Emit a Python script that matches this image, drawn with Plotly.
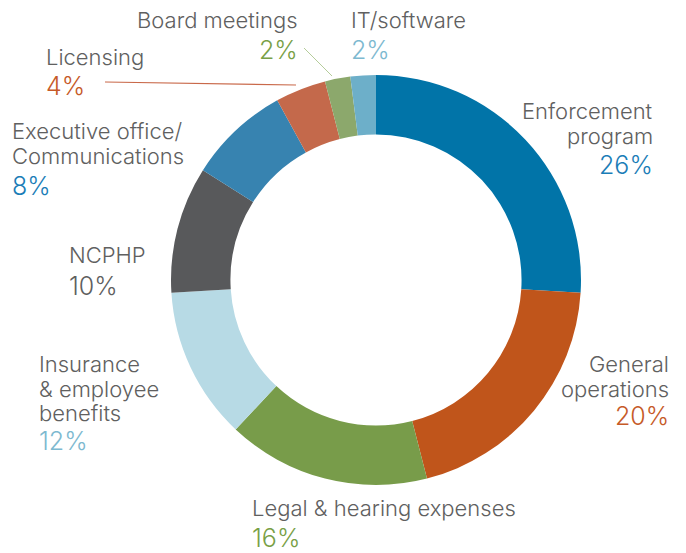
import plotly.graph_objects as go

categories = ["Enforcement program", "General operations", "Legal & hearing expenses",
              "Insurance & employee benefits", "NCPHP", "Executive office/ Communications",
              "Licensing", "Board meetings", "IT/software"]
values = [26, 20, 16, 12, 10, 8, 4, 2, 2]
pct_labels = ["26%", "20%", "16%", "12%", "10%", "8%", "4%", "2%", "2%"]
label_lines = [["Enforcement", "program"], ["General", "operations"], ["Legal & hearing expenses"],
               ["Insurance", "& employee", "benefits"], ["NCPHP"], ["Executive office/", "Communications"],
               ["Licensing"], ["Board meetings"], ["IT/software"]]

slice_colors = ["#0174A8", "#C0551B", "#789C4A", "#B7DAE5", "#58595B", "#3783B0",
                "#C4694B", "#8CA86C", "#6DAFC9"]
pct_colors = ["#1A7DB7", "#C65A28", "#78A046", "#7DB9D0", "#5F5F5F", "#1A7DB7",
              "#C65A28", "#78A046", "#7DB9D0"]
text_gray = "#606060"

# page offset (browser body margin)
OFF = 8
W, H = 686 - OFF, 553 - OFF
def px(x):
    return (x - OFF) / W
def py(y):
    return 1 - (y - OFF) / H

# layout positions in page pixels: (x, xanchor, first line center y, pct center y)
pos = [
    (652, "right", 111, 165),
    (668, "right", 364, 416),
    (253, "left", 508, 538),
    (40, "left", 364, 441),
    (70, "left", 255, 286),
    (13, "left", 131, 186),
    (47, "left", 57, 86),
    (297, "right", 20, 50),
    (352, "left", 20, 50),
]
line_step = 24.5
PAD = 3  # annotation inner padding compensation

cx, cy, r = 376, 280, 205
fig = go.Figure(go.Pie(
    labels=categories, values=values, sort=False, direction="clockwise", rotation=0,
    hole=0.71, marker=dict(colors=slice_colors, line=dict(width=0)),
    textinfo="none", hoverinfo="label+percent", showlegend=False,
    domain=dict(x=[px(cx - r), px(cx + r)], y=[py(cy + r), py(cy - r)]),
))

font_fam = "Inter, Lato, sans-serif"
ann = []
for i, (x, xa, y0, yp) in enumerate(pos):
    xx = x + PAD if xa == "right" else x - PAD
    for j, line in enumerate(label_lines[i]):
        ann.append(dict(x=px(xx), y=py(y0 + j * line_step), xref="paper", yref="paper",
                        text=line, showarrow=False, xanchor=xa, yanchor="middle",
                        font=dict(family=font_fam, size=22, color=text_gray, weight=300)))
    ann.append(dict(x=px(xx), y=py(yp), xref="paper", yref="paper", text=pct_labels[i],
                    showarrow=False, xanchor=xa, yanchor="middle",
                    font=dict(family=font_fam, size=25, color=pct_colors[i], weight=300)))

shapes = [
    dict(type="line", xref="paper", yref="paper", x0=px(105), y0=py(82), x1=px(296), y1=py(85),
         line=dict(color="#C9694A", width=1.2)),
    dict(type="line", xref="paper", yref="paper", x0=px(304), y0=py(48), x1=px(332), y1=py(76),
         line=dict(color="#B5CC9A", width=1)),
]

fig.update_layout(width=W, height=H, margin=dict(l=0, r=0, t=0, b=0),
                  paper_bgcolor="white", plot_bgcolor="white",
                  annotations=ann, shapes=shapes)
fig.write_html("out.html")
